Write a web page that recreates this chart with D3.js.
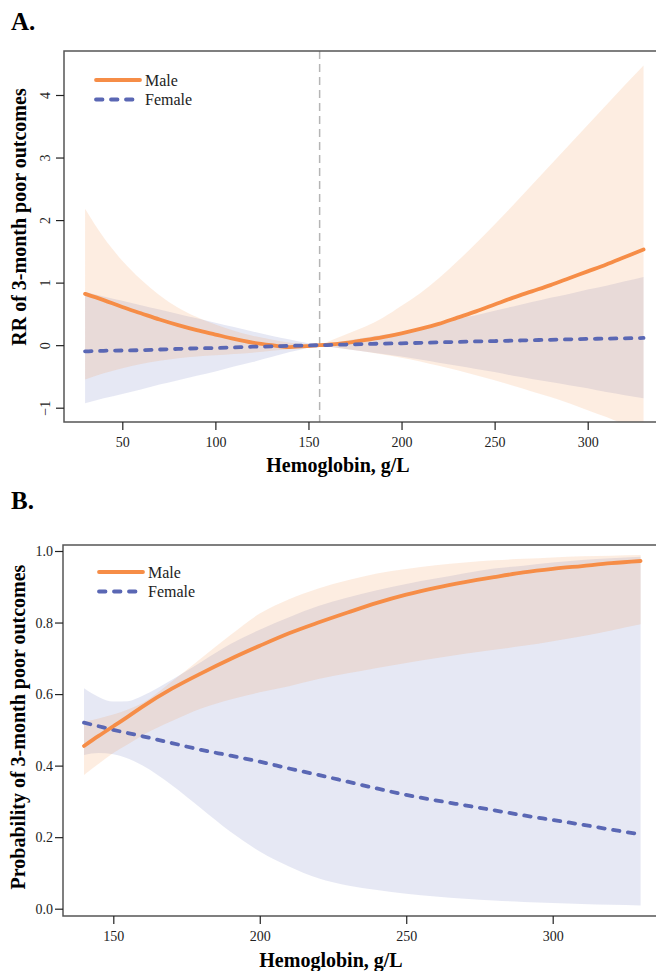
<!DOCTYPE html>
<html><head><meta charset="utf-8">
<script src="https://cdn.jsdelivr.net/npm/d3@7/dist/d3.min.js"></script>
<style>body{margin:0;background:#fff}svg{display:block}text{font-family:"Liberation Serif","Times New Roman",serif}</style>
</head><body>
<svg id="c" width="656" height="971"></svg>
<script>
// ---------- Panel A data (RR, log scale values) ----------
const hbA = [30,40,50,60,70,80,90,100,110,120,130,140,150,156,160,170,180,190,200,210,220,230,240,250,260,270,280,290,300,310,320,330];
const maleA = [0.82,0.72,0.61,0.51,0.41,0.32,0.24,0.17,0.10,0.04,0.0,-0.03,-0.015,0,0.005,0.035,0.08,0.13,0.19,0.26,0.34,0.44,0.54,0.65,0.76,0.86,0.96,1.07,1.18,1.29,1.41,1.53];
const maleALo = [-0.55,-0.45,-0.37,-0.30,-0.25,-0.21,-0.18,-0.16,-0.14,-0.12,-0.09,-0.06,-0.02,0,-0.02,-0.06,-0.10,-0.15,-0.20,-0.26,-0.33,-0.40,-0.48,-0.56,-0.65,-0.74,-0.83,-0.93,-1.04,-1.15,-1.27,-1.40];
const maleAHi = [2.18,1.72,1.35,1.05,0.80,0.60,0.45,0.33,0.23,0.15,0.09,0.04,0.01,0,0.05,0.17,0.29,0.44,0.63,0.83,1.07,1.34,1.63,1.93,2.24,2.56,2.88,3.20,3.52,3.84,4.16,4.47];
const femaleA = [-0.10,-0.09,-0.085,-0.08,-0.07,-0.06,-0.05,-0.045,-0.035,-0.025,-0.02,-0.01,-0.005,0,0.002,0.01,0.017,0.025,0.03,0.037,0.045,0.052,0.06,0.066,0.072,0.08,0.086,0.093,0.10,0.105,0.11,0.115];
const femaleALo = [-0.93,-0.85,-0.78,-0.71,-0.63,-0.56,-0.49,-0.42,-0.34,-0.27,-0.19,-0.11,-0.04,0,-0.02,-0.06,-0.10,-0.14,-0.18,-0.23,-0.28,-0.33,-0.38,-0.43,-0.49,-0.54,-0.59,-0.64,-0.69,-0.75,-0.80,-0.85];
const femaleAHi = [0.85,0.78,0.71,0.64,0.57,0.50,0.43,0.36,0.29,0.22,0.15,0.09,0.03,0,0.02,0.07,0.12,0.165,0.21,0.28,0.35,0.42,0.48,0.55,0.62,0.69,0.76,0.82,0.89,0.95,1.02,1.09];
const refHb = 156;
const xTicksA = [50,100,150,200,250,300];
const yTicksA = [-1,0,1,2,3,4];

// ---------- Panel B data (probability) ----------
const hbB = [140,145,150,155,160,170,180,190,200,210,220,230,240,250,260,270,280,290,300,310,320,330];
const maleB = [0.455,0.483,0.51,0.537,0.565,0.615,0.658,0.698,0.735,0.77,0.80,0.828,0.855,0.878,0.897,0.913,0.927,0.94,0.95,0.958,0.966,0.972];
const maleBLo = [0.374,0.405,0.435,0.46,0.485,0.525,0.56,0.585,0.605,0.622,0.642,0.658,0.673,0.687,0.70,0.713,0.724,0.735,0.748,0.762,0.778,0.795];
const maleBHi = [0.523,0.532,0.543,0.557,0.575,0.635,0.70,0.765,0.825,0.865,0.895,0.918,0.937,0.95,0.96,0.968,0.974,0.978,0.982,0.985,0.987,0.989];
const femaleB = [0.52,0.51,0.50,0.491,0.482,0.463,0.444,0.428,0.411,0.392,0.374,0.355,0.336,0.318,0.303,0.289,0.275,0.261,0.248,0.235,0.221,0.208];
const femaleBLo = [0.43,0.435,0.432,0.42,0.40,0.345,0.28,0.215,0.16,0.118,0.085,0.065,0.052,0.042,0.034,0.028,0.023,0.019,0.016,0.013,0.011,0.009];
const femaleBHi = [0.616,0.592,0.579,0.58,0.595,0.64,0.69,0.74,0.78,0.815,0.846,0.87,0.89,0.908,0.923,0.938,0.951,0.959,0.968,0.975,0.98,0.984];
const xTicksB = [150,200,250,300];
const yTicksB = [0,0.2,0.4,0.6,0.8,1.0];

const labels = {male:"Male", female:"Female", x:"Hemoglobin, g/L", yA:"RR of 3-month poor outcomes", yB:"Probability of 3-month poor outcomes"};

const ORANGE = "#f68d47", BLUE = "#5a67b4", FRAME = "#555";
const svg = d3.select("#c");

function panel(cfg){
  const g = svg.append("g");
  const {x, y, box} = cfg;
  const clipId = "clip" + cfg.id;
  svg.append("defs").append("clipPath").attr("id", clipId)
    .append("rect").attr("x", box.l).attr("y", box.t).attr("width", box.r - box.l).attr("height", box.b - box.t);
  const plot = g.append("g").attr("clip-path", `url(#${clipId})`);
  const rows = cfg.hb.map((h,i)=>({h, m:cfg.m[i], mlo:cfg.mlo[i], mhi:cfg.mhi[i], f:cfg.f[i], flo:cfg.flo[i], fhi:cfg.fhi[i]}));
  const curve = d3.curveMonotoneX;
  const areaF = d3.area().x(d=>x(d.h)).y0(d=>y(d.flo)).y1(d=>y(d.fhi)).curve(curve);
  const areaM = d3.area().x(d=>x(d.h)).y0(d=>y(d.mlo)).y1(d=>y(d.mhi)).curve(curve);
  plot.append("path").attr("d", areaF(rows)).attr("fill", BLUE).attr("fill-opacity", 0.15);
  plot.append("path").attr("d", areaM(rows)).attr("fill", "#f2954f").attr("fill-opacity", 0.17);
  if (cfg.ref !== undefined) {
    plot.append("line").attr("x1", x(cfg.ref)).attr("x2", x(cfg.ref)).attr("y1", box.t).attr("y2", box.b)
      .attr("stroke", "#b5b5b5").attr("stroke-width", 1.5).attr("stroke-dasharray", "8,5");
  }
  const lineM = d3.line().x(d=>x(d.h)).y(d=>y(d.m)).curve(curve);
  const lineF = d3.line().x(d=>x(d.h)).y(d=>y(d.f)).curve(curve);
  const drawM = () => plot.append("path").attr("d", lineM(rows)).attr("fill","none").attr("stroke", ORANGE).attr("stroke-width", 3.8).attr("stroke-linecap","round");
  const drawF = () => plot.append("path").attr("d", lineF(rows)).attr("fill","none").attr("stroke", BLUE).attr("stroke-width", 3.8).attr("stroke-linecap","round").attr("stroke-dasharray","6.5,8.5");
  if (cfg.femaleTop) { drawM(); drawF(); } else { drawF(); drawM(); }

  // frame
  g.append("rect").attr("x", box.l).attr("y", box.t).attr("width", box.r - box.l).attr("height", box.b - box.t)
    .attr("fill","none").attr("stroke", FRAME).attr("stroke-width", 1.5);

  // x axis ticks
  const xa = g.append("g").attr("transform", `translate(0,${box.b})`)
    .call(d3.axisBottom(x).tickValues(cfg.xTicks).tickSize(8).tickSizeOuter(0).tickPadding(7));
  xa.select(".domain").remove();
  xa.selectAll("line").attr("stroke", "#222").attr("stroke-width", 1.2);
  xa.selectAll("text").attr("font-size", 14).attr("fill", "#222").attr("font-family", '"Liberation Serif",serif');

  // y axis ticks
  const ya = g.append("g").attr("transform", `translate(${box.l},0)`)
    .call(d3.axisLeft(y).tickValues(cfg.yTicks).tickSize(8).tickSizeOuter(0).tickFormat(cfg.yFmt));
  ya.select(".domain").remove();
  ya.selectAll("line").attr("stroke", "#222").attr("stroke-width", 1.2);
  ya.selectAll("text").attr("font-size", 14).attr("fill", "#222").attr("font-family", '"Liberation Serif",serif');
  if (cfg.rotY) {
    ya.selectAll("text").attr("x", null).attr("dy", null).attr("text-anchor","middle")
      .attr("transform", "translate(-14,0) rotate(-90)").attr("dy", "0em");
  } else {
    ya.selectAll("text").attr("x", -10);
  }

  // titles
  g.append("text").attr("x", cfg.xTitle.x).attr("y", cfg.xTitle.y).attr("text-anchor","middle")
    .attr("font-size", 20).attr("font-weight","bold").text(labels.x);
  g.append("text").attr("transform", `translate(${cfg.yTitle.x},${cfg.yTitle.y}) rotate(-90)`).attr("text-anchor","middle")
    .attr("font-size", 20).attr("font-weight","bold").text(cfg.yLabel);
  g.append("text").attr("x", 11).attr("y", cfg.tagY).attr("font-size", 25).attr("font-weight","bold").text(cfg.tag);

  // legend
  const L = cfg.legend;
  g.append("line").attr("x1", L.x).attr("x2", L.x + 44).attr("y1", L.y).attr("y2", L.y)
    .attr("stroke", ORANGE).attr("stroke-width", 3.8).attr("stroke-linecap","round");
  g.append("line").attr("x1", L.x).attr("x2", L.x + 42).attr("y1", L.y + 19.5).attr("y2", L.y + 19.5)
    .attr("stroke", BLUE).attr("stroke-width", 3.8).attr("stroke-linecap","round").attr("stroke-dasharray","6.5,8.5");
  g.append("text").attr("x", L.x + 49).attr("y", L.y + 5.5).attr("font-size", 16).attr("fill","#222").text(labels.male);
  g.append("text").attr("x", L.x + 49).attr("y", L.y + 25).attr("font-size", 16).attr("fill","#222").text(labels.female);
}

panel({
  id:"A",
  hb: hbA, m: maleA, mlo: maleALo, mhi: maleAHi, f: femaleA, flo: femaleALo, fhi: femaleAHi,
  x: d3.scaleLinear().domain([50,300]).range([122.3,587.7]),
  y: d3.scaleLinear().domain([-1,4]).range([407.7,95]),
  box: {l:64, t:51, r:662, b:422},
  ref: refHb, xTicks: xTicksA, yTicks: yTicksA, yFmt: d3.format("d"), rotY: true,
  xTitle:{x:338, y:472}, yTitle:{x:26, y:217}, yLabel: labels.yA,
  tag:"A.", tagY:30, legend:{x:96, y:80}, femaleTop:true
});

panel({
  id:"B",
  hb: hbB, m: maleB, mlo: maleBLo, mhi: maleBHi, f: femaleB, flo: femaleBLo, fhi: femaleBHi,
  x: d3.scaleLinear().domain([150,300]).range([113.3,552.7]),
  y: d3.scaleLinear().domain([0,1]).range([908.7,551]),
  box: {l:63, t:545, r:662, b:916},
  xTicks: xTicksB, yTicks: yTicksB, yFmt: d3.format(".1f"), rotY: false,
  xTitle:{x:331, y:967}, yTitle:{x:25, y:727}, yLabel: labels.yB,
  tag:"B.", tagY:509, legend:{x:99, y:572}, femaleTop:false
});
</script>
</body></html>
